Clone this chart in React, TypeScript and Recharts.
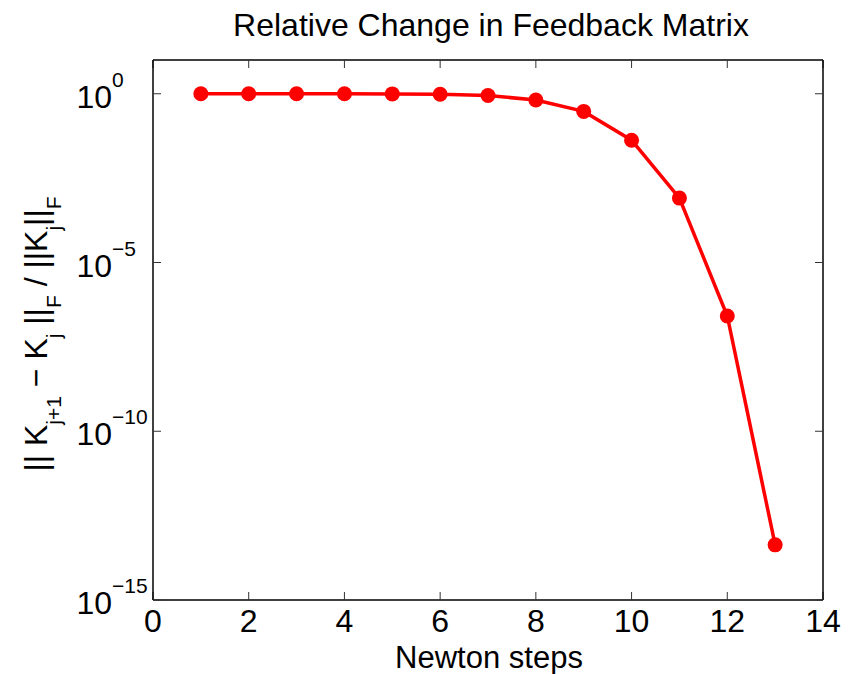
import { LineChart, Line, XAxis, YAxis } from "recharts";

const FONT = "'Liberation Sans', Arial, Helvetica, sans-serif";

// Newton iteration index and relative change ||K_{j+1}-K_j||_F / ||K_j||_F
const steps = [1, 2, 3, 4, 5, 6, 7, 8, 9, 10, 11, 12, 13];
const relChange = [1.0, 1.0, 1.0, 1.0, 0.99, 0.97, 0.89, 0.65, 0.3, 0.042, 8.1e-4, 2.6e-7, 4.3e-14];

const xTicks = [0, 2, 4, 6, 8, 10, 12, 14];
const yTicks = [1e-15, 1e-10, 1e-5, 1];
const xDomain = [0, 14];
const yDomain = [1e-15, 10];

const title = "Relative Change in Feedback Matrix";
const xLabel = "Newton steps";

const data = steps.map((s, i) => ({ step: s, rel: relChange[i] }));

function XTick(props: any) {
  const { x, y, payload } = props;
  return (
    <text x={x} y={y + 32} textAnchor="middle" fontSize={32} fontFamily={FONT} fill="#000">
      {payload.value}
    </text>
  );
}

function LogTick(props: any) {
  const { x, y, payload } = props;
  const exp = Math.round(Math.log10(payload.value));
  const sup = exp < 0 ? "\u2212" + -exp : String(exp);
  return (
    <g>
      <text x={x - 41} y={y + 14} textAnchor="end" fontSize={32} fontFamily={FONT} fill="#000">
        10
      </text>
      <text x={x - 41} y={y - 7} textAnchor="start" fontSize={21} fontFamily={FONT} fill="#000">
        {sup}
      </text>
    </g>
  );
}

function TitleLabel() {
  return (
    <text x={491} y={36} textAnchor="middle" fontSize={32} fontFamily={FONT} fill="#000">
      {title}
    </text>
  );
}

function XAxisLabel() {
  return (
    <text x={489} y={668} textAnchor="middle" fontSize={31} fontFamily={FONT} fill="#000">
      {xLabel}
    </text>
  );
}

function YAxisLabel() {
  const sub = 14;
  return (
    <text
      transform="translate(47,334) rotate(-90)"
      textAnchor="middle"
      fontSize={32}
      fontFamily={FONT}
      fill="#000"
    >
      <tspan>|| K</tspan>
      <tspan fontSize={21} dy={sub}>j+1</tspan>
      <tspan dy={-sub}> − K</tspan>
      <tspan fontSize={21} dy={sub}>j</tspan>
      <tspan dy={-sub}> ||</tspan>
      <tspan fontSize={21} dy={sub}>F</tspan>
      <tspan dy={-sub}> / ||K</tspan>
      <tspan fontSize={21} dy={sub}>j</tspan>
      <tspan dy={-sub}>||</tspan>
      <tspan fontSize={21} dy={sub}>F</tspan>
    </text>
  );
}

const axisLine = { stroke: "#000", strokeWidth: 1.5 };
const tickLine = { stroke: "#333", strokeWidth: 1 };

export default function App() {
  return (
    <div style={{ position: "absolute", left: 0, top: 0, background: "#fff" }}>
      <LineChart
        width={848}
        height={674}
        data={data}
        margin={{ top: 59, right: 24, bottom: 0, left: 0 }}
      >
        <XAxis
          dataKey="step"
          type="number"
          domain={xDomain}
          ticks={xTicks}
          interval={0}
          height={74}
          axisLine={axisLine}
          tickLine={tickLine}
          tickSize={-8}
          tickMargin={8}
          tick={<XTick />}
          label={<XAxisLabel />}
        />
        <XAxis
          xAxisId="top"
          orientation="top"
          dataKey="step"
          type="number"
          domain={xDomain}
          ticks={xTicks}
          interval={0}
          height={1}
          axisLine={axisLine}
          tickLine={tickLine}
          tickSize={-8}
          tickFormatter={() => ""}
          label={<TitleLabel />}
        />
        <YAxis
          type="number"
          scale="log"
          domain={yDomain}
          allowDataOverflow
          ticks={yTicks}
          interval={0}
          width={153}
          axisLine={axisLine}
          tickLine={tickLine}
          tickSize={-8}
          tickMargin={8}
          tick={<LogTick />}
          label={<YAxisLabel />}
        />
        <YAxis
          yAxisId="right"
          orientation="right"
          type="number"
          scale="log"
          domain={yDomain}
          allowDataOverflow
          ticks={yTicks}
          interval={0}
          width={1}
          axisLine={axisLine}
          tickLine={tickLine}
          tickSize={-8}
          tickFormatter={() => ""}
        />
        <Line
          dataKey="rel"
          type="linear"
          stroke="#ff0000"
          strokeWidth={3.5}
          dot={{ r: 7.5, fill: "#ff0000", stroke: "#ff0000", strokeWidth: 0 }}
          isAnimationActive={false}
        />
      </LineChart>
    </div>
  );
}
